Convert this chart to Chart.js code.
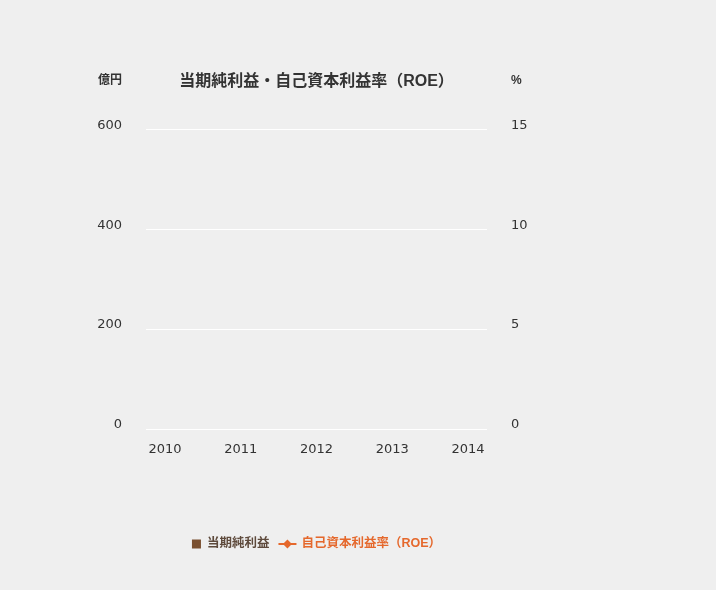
<!DOCTYPE html>
<html lang="ja">
<head>
<meta charset="utf-8">
<script src="https://cdn.jsdelivr.net/npm/chart.js@4"></script>
<style>
  html, body { margin: 0; padding: 0; background: #efefef; }
  #wrap { width: 716px; height: 590px; position: relative; }
</style>
</head>
<body>
<div id="wrap"><canvas id="chart"></canvas></div>
<script>
// データ（グラフ上には値が描かれていないので空）
const years = ['2010', '2011', '2012', '2013', '2014'];
const netIncome = [null, null, null, null, null];   // 億円
const roe = [null, null, null, null, null];         // %
const leftTicks = [0, 200, 400, 600];
const rightTicks = [0, 5, 10, 15];

const FONT = '"Liberation Sans", Arial, "Noto Sans CJK JP", sans-serif';
const NUM_FONT = '"DejaVu Sans", "Noto Sans CJK JP", sans-serif';
const TEXT = '#333333';
const BROWN = '#7a5030';
const ORANGE = '#e5682c';

// 単位ラベルと凡例
const extras = {
    id: 'extras',
    afterDraw(chart) {
        const ctx = chart.ctx;
        const area = chart.chartArea;
        ctx.save();
        ctx.font = 'bold 12px ' + FONT;
        ctx.fillStyle = TEXT;
        ctx.textBaseline = 'middle';
        ctx.textAlign = 'right';
        ctx.fillText('億円', 122, 81);
        ctx.textAlign = 'left';
        ctx.fillText('%', 511, 81);

        // 凡例
        const y = 544;
        ctx.font = 'bold 12.5px ' + FONT;
        const label1 = chart.data.datasets[0].label;
        const label2 = chart.data.datasets[1].label;
        const w1 = 9 + 6 + ctx.measureText(label1).width;
        const w2 = 18 + 5 + ctx.measureText(label2).width;
        let x = (area.left + area.right) / 2 - (w1 + 9 + w2) / 2;

        ctx.fillStyle = BROWN;
        ctx.fillRect(x, y - 4.5, 9, 9);
        ctx.fillStyle = '#5e4a3c';
        ctx.fillText(label1, x + 15, y);
        x += w1 + 9;

        ctx.strokeStyle = ORANGE;
        ctx.lineWidth = 2;
        ctx.beginPath();
        ctx.moveTo(x, y);
        ctx.lineTo(x + 18, y);
        ctx.stroke();
        ctx.fillStyle = ORANGE;
        ctx.beginPath();
        ctx.moveTo(x + 9, y - 4.5);
        ctx.lineTo(x + 13.5, y);
        ctx.lineTo(x + 9, y + 4.5);
        ctx.lineTo(x + 4.5, y);
        ctx.closePath();
        ctx.fill();
        ctx.fillText(label2, x + 23, y);
        ctx.restore();
    }
};

new Chart(document.getElementById('chart'), {
    type: 'bar',
    data: {
        datasets: [
            {
                label: '当期純利益',
                data: netIncome.map((v, i) => ({ x: i, y: v })),
                backgroundColor: BROWN,
                yAxisID: 'y'
            },
            {
                type: 'line',
                label: '自己資本利益率（ROE）',
                data: roe.map((v, i) => ({ x: i, y: v })),
                borderColor: ORANGE,
                backgroundColor: ORANGE,
                pointStyle: 'rectRot',
                yAxisID: 'y1'
            }
        ]
    },
    options: {
        responsive: true,
        maintainAspectRatio: false,
        animation: false,
        layout: { padding: { top: 0, bottom: 121, left: 0, right: 0 } },
        plugins: {
            legend: { display: false },
            tooltip: { enabled: false },
            title: {
                display: true,
                fullSize: false,
                text: '当期純利益・自己資本利益率（ROE）',
                color: TEXT,
                font: { family: FONT, size: 16, weight: 'bold', lineHeight: 1.2 },
                padding: { top: 72, bottom: 38 }
            }
        },
        scales: {
            x: {
                type: 'linear',
                offset: false,
                min: -0.25,
                max: 4.25,
                grid: { display: false },
                border: { display: false },
                afterBuildTicks(scale) {
                    scale.ticks = years.map((_, i) => ({ value: i }));
                },
                ticks: {
                    callback: (v) => years[v],
                    color: TEXT,
                    padding: 5,
                    maxRotation: 0,
                    font: { family: NUM_FONT, size: 13 }
                },
                afterFit(scale) { scale.height = 40; }
            },
            y: {
                position: 'left',
                min: 0,
                max: 600,
                afterBuildTicks(scale) {
                    scale.ticks = leftTicks.map(v => ({ value: v }));
                },
                grid: { color: '#ffffff', lineWidth: 1, drawTicks: false },
                border: { display: false },
                ticks: {
                    color: TEXT,
                    padding: 24,
                    labelOffset: -4,
                    font: { family: NUM_FONT, size: 13 }
                },
                afterFit(scale) { scale.width = 146; }
            },
            y1: {
                position: 'right',
                min: 0,
                max: 15,
                afterBuildTicks(scale) {
                    scale.ticks = rightTicks.map(v => ({ value: v }));
                },
                grid: { display: false, drawTicks: false },
                border: { display: false },
                ticks: {
                    color: TEXT,
                    padding: 24,
                    labelOffset: -4,
                    font: { family: NUM_FONT, size: 13 }
                },
                afterFit(scale) { scale.width = 229; }
            }
        }
    },
    plugins: [extras]
});
</script>
</body>
</html>
